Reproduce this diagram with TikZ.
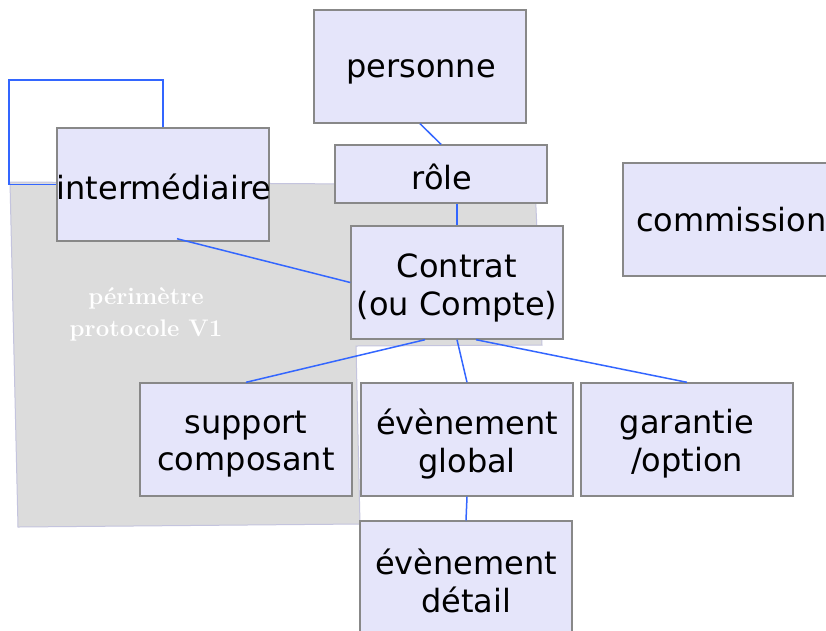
\documentclass[tikz,border=0pt]{standalone}
\usepackage{fontspec}
\usetikzlibrary{calc}
\newfontfamily\dejavu{DejaVu Sans}
\definecolor{boxfill}{RGB}{229,229,250}
\definecolor{boxline}{RGB}{136,136,136}
\definecolor{linkblue}{RGB}{51,102,255}
\definecolor{zonefill}{RGB}{220,220,220}
\definecolor{zoneline}{RGB}{196,196,222}
\tikzset{
  entity/.style={draw=boxline, fill=boxfill, line width=1.4pt, minimum width=212pt,
    minimum height=113pt, inner sep=0pt},
  etext/.style={inner sep=0pt, align=center,
    font=\dejavu\fontsize{32}{37.5}\selectfont},
  link/.style={draw=linkblue, line width=1.5pt},
  zone/.style={fill=zonefill, draw=zoneline, line width=1pt},
  zonelabel/.style={text=white, align=center, font=\bfseries\fontsize{24}{32}\selectfont}
}
\begin{document}
\begin{tikzpicture}[x=1pt,y=-1pt]
\useasboundingbox (0,0) rectangle (826,630);
\clip (0,0) rectangle (826,630);
\fill[white] (0,0) rectangle (826,630);
% perimeter zone
\path[zone] (10,182) -- (535,185) -- (542,345) -- (356,346) -- (360,524) -- (18,527) -- cycle;
\node[zonelabel] (zlabel) at (146,314) {périmètre\\protocole V1};
% entities
\node[entity] (personne) at (420,66.5) {};
\node[entity, minimum height=58pt] (role) at (441,174) {};
\node[entity] (inter) at (163,184.5) {};
\node[entity] (contrat) at (457,282.5) {};
\node[entity] (support) at (246,439.5) {};
\node[entity] (glob) at (467,439.5) {};
\node[entity] (garantie) at (687,439.5) {};
\node[entity, minimum height=118pt] (detail) at (466,580) {};
\node[entity, minimum width=217pt] (commission) at (731.5,219.5) {};
% texts
\node[etext] (personne-t) at (421,72) {personne};
\node[etext] (role-t) at (442,177) {rôle};
\node[etext] (inter-t) at (164,187) {intermédiaire};
\node[etext] (contrat-t) at (457,288) {Contrat\\(ou Compte)};
\node[etext] (support-t) at (246,444) {support\\composant};
\node[etext] (glob-t) at (467,444) {évènement\\global};
\node[etext] (garantie-t) at (687,443.5) {garantie\\/option};
\node[etext] (detail-t) at (466,581) {évènement\\détail};
\node[etext, anchor=west] (commission-t) at (636,220) {commission};
% connectors
\draw[link] (personne.south) -- (role.north);
\draw[link] (role.south -| contrat.north) -- (contrat.north);
\draw[link] ($(inter.south)+(14,-3)$) -- (contrat.west);
\draw[link] ($(contrat.south)+(-32,0)$) -- (support.north);
\draw[link] (contrat.south) -- (glob.north);
\draw[link] ($(contrat.south)+(19,0)$) -- (garantie.north);
\draw[link] (glob.south) -- (detail.north);
\coordinate (loopa) at (9,80);
\draw[link] (inter.north) |- (loopa) |- (inter.west);
\end{tikzpicture}
\end{document}
